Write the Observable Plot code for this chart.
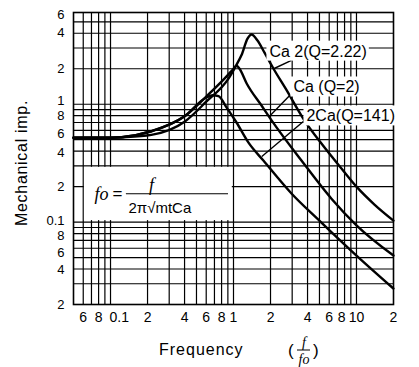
<!DOCTYPE html>
<html><head><meta charset="utf-8">
<script src="https://cdn.jsdelivr.net/npm/d3@7"></script>
<script src="https://cdn.jsdelivr.net/npm/@observablehq/plot@0.6"></script>
<style>body{margin:0;background:#fff;}</style>
</head><body><div id="chart"></div>
<script>
// Curve A: Ca/2 (Q=2.22)
const freqA = [0.05,0.1,0.123,0.215,0.40,0.60,0.91,1.06,1.16,1.30,1.40,1.567,1.787,2.11,2.65,3.78,5.19,7.55,10,14,20];
const impA  = [0.52,0.52,0.525,0.55,0.71,1.05,1.65,2.17,2.6,3.6,3.9,3.47,2.74,2.01,1.36,0.727,0.464,0.285,0.20,0.141,0.103];
// Curve B: Ca (Q=2)
const freqB = [0.05,0.1,0.123,0.215,0.40,0.60,0.91,1.0,1.06,1.12,1.28,1.69,2.04,3.57,6.26,10,20];
const impB  = [0.52,0.52,0.525,0.59,0.79,1.16,1.79,2.0,2.12,2.0,1.5,0.975,0.73,0.333,0.158,0.094,0.052];
// Curve C: 2Ca (Q=1.41)
const freqC = [0.05,0.1,0.123,0.215,0.40,0.60,0.68,0.755,0.877,1.058,1.324,1.75,2.96,4.99,10,20];
const impC  = [0.52,0.52,0.525,0.59,0.79,1.14,1.19,1.17,0.94,0.70,0.472,0.333,0.175,0.103,0.052,0.0273];

const xTicks = [0.06,0.08,0.1,0.2,0.4,0.6,0.8,1,2,4,6,8,10,20];
const xTickLabels = ["6","8","0.1","2","4","6","8","1","2","4","6","8","10","2"];
const yTicks = [6,4,2,1,0.8,0.6,0.4,0.2,0.1,0.08,0.06,0.04,0.02];
const yTickLabels = ["6","4","2","1","8","6","4","2","0.1","8","6","4","2"];
const xGrid = [0.06,0.07,0.08,0.09,0.1,0.2,0.3,0.4,0.5,0.6,0.7,0.8,0.9,1,2,3,4,5,6,7,8,9,10];
const yGrid = [0.03,0.04,0.05,0.06,0.07,0.08,0.09,0.1,0.2,0.3,0.4,0.5,0.6,0.7,0.8,0.9,1,2,3,4,5];

const labelText = ["Ca 2(Q=2.22)","Ca (Q=2)","2Ca(Q=141)"];
const labelX = [1.96, 3.07, 3.92];
const labelY = [2.8, 1.39, 0.79];
const leaderX1 = [2.96, 2.85, 3.78];
const leaderY1 = [2.35, 1.18, 0.727];
const leaderX2 = [2.12, 1.98, 1.70];
const leaderY2 = [2.0, 0.80, 0.36];

const rows = [
  ...freqA.map((f,i)=>({f, z: impA[i], s:"A"})),
  ...freqB.map((f,i)=>({f, z: impB[i], s:"B"})),
  ...freqC.map((f,i)=>({f, z: impC[i], s:"C"}))
];
const labels = labelText.map((t,i)=>({t, x: labelX[i], y: labelY[i]}));
const leaders = leaderX1.map((v,i)=>({x1: v, y1: leaderY1[i], x2: leaderX2[i], y2: leaderY2[i]}));

const sans = "'Liberation Sans', Arial, sans-serif";
const serif = "'Liberation Serif', 'Times New Roman', serif";

// small typographic nudges (pixels) so the packed tick labels do not collide
const xNudge = (v, i) => xTickLabels[i] === "0.1" ? {textAnchor: "start", dx: -1} : (v === 8 ? {dx: -3} : {});
const yNudge = {6: 2, 1: -3.5, 0.6: 3, 0.4: 2, 0.1: -1.5, 0.08: 2, 0.06: 4.5, 0.04: 1};

const xLabelMarks = xTicks.map((v, i) => Plot.text([v], {x: d => d, text: () => xTickLabels[i], frameAnchor: "bottom", lineAnchor: "top", dy: 8, fontSize: 14, fill: "black", ...xNudge(v, i)}));
const yLabelMarks = yTicks.map((v, i) => Plot.text([v], {y: d => d, text: () => yTickLabels[i], frameAnchor: "left", textAnchor: "end", lineAnchor: "middle", dx: -9, dy: yNudge[v] || 0, fontSize: 13, fill: "black"}));

const plot = Plot.plot({
  width: 419, height: 367,
  marginLeft: 73, marginRight: 26, marginTop: 12, marginBottom: 63,
  style: {fontFamily: sans, fontSize: "14px", background: "white", color: "black"},
  x: {type: "log", domain: [0.05, 20], axis: null},
  y: {type: "log", domain: [0.02, 6], axis: null},
  marks: [
    Plot.ruleX(xGrid, {stroke: "black", strokeWidth: 1.2}),
    Plot.ruleY(yGrid, {stroke: "black", strokeWidth: 1.2}),
    Plot.rect([{x1: 0.06, x2: 1, y1: 0.1, y2: 0.3}], {x1: "x1", x2: "x2", y1: "y1", y2: "y2", fill: "white", insetLeft: 1.2, insetRight: 1.2, insetTop: 1.5, insetBottom: 1.5}),
    Plot.frame({stroke: "black", strokeWidth: 1.6}),
    Plot.line(rows, {x: "f", y: "z", z: "s", stroke: "black", strokeWidth: 2.4, curve: "monotone-x"}),
    Plot.link(leaders, {x1: "x1", y1: "y1", x2: "x2", y2: "y2", stroke: "black", strokeWidth: 1.4}),
    Plot.text(labels, {x: "x", y: "y", text: "t", textAnchor: "start", lineAnchor: "middle", fontSize: 16, fill: "black", style: "letter-spacing:2px"}),
    ...xLabelMarks,
    ...yLabelMarks,
    // formula box contents
    Plot.text([{x: 0.0741, y: 0.1555, t: "fo"}], {x: "x", y: "y", text: "t", textAnchor: "start", lineAnchor: "bottom", fontSize: 18, fontStyle: "italic", fontFamily: serif}),
    Plot.text([{x: 0.104, y: 0.174, t: "="}], {x: "x", y: "y", text: "t", textAnchor: "start", lineAnchor: "middle", fontSize: 17}),
    Plot.ruleY([{y: 0.174, x1: 0.1346, x2: 0.911}], {y: "y", x1: "x1", x2: "x2", stroke: "black", strokeWidth: 1.2}),
    Plot.text([{x: 0.2154, y: 0.1854, t: "f"}], {x: "x", y: "y", text: "t", textAnchor: "middle", lineAnchor: "bottom", fontSize: 18, fontStyle: "italic", fontFamily: serif}),
    Plot.text([{x: 0.140, y: 0.1206, t: "2π√mtCa"}], {x: "x", y: "y", text: "t", textAnchor: "start", lineAnchor: "bottom", fontSize: 15, style: "letter-spacing:1.5px"})
  ]
});
document.getElementById("chart").append(plot);

const NS = "http://www.w3.org/2000/svg";
// white backgrounds behind curve labels
Array.from(plot.querySelectorAll("text")).filter(el => labelText.includes(el.textContent)).forEach(el => {
  const b = el.getBBox();
  const r = document.createElementNS(NS, "rect");
  r.setAttribute("x", b.x - 3); r.setAttribute("y", b.y - 2);
  r.setAttribute("width", b.width + 5); r.setAttribute("height", b.height + 3);
  r.setAttribute("fill", "white");
  const tr = el.getAttribute("transform"); if (tr) r.setAttribute("transform", tr);
  el.parentNode.insertBefore(r, el);
});

const svg = d3.select(plot);
// y axis title
svg.append("text").attr("transform", "translate(21,163) rotate(-90)")
  .attr("text-anchor", "middle").attr("dy", "0.35em")
  .style("font-size", "16px").style("letter-spacing", "0.7px").attr("fill", "black")
  .text("Mechanical imp.");
// x axis title
const xt = svg.append("g").attr("fill", "black").attr("text-anchor", "start");
xt.append("text").attr("x", 159).attr("y", 355).style("font-size", "16px").style("letter-spacing", "1px").text("Frequency");
xt.append("text").attr("x", 288).attr("y", 356).style("font-size", "17px").text("(");
xt.append("text").attr("x", 304).attr("y", 347).attr("text-anchor", "middle").style("font-size", "14px").style("font-style", "italic").style("font-family", serif).text("f");
xt.append("line").attr("x1", 297).attr("x2", 310).attr("y1", 350).attr("y2", 350).attr("stroke", "black").attr("stroke-width", 1);
xt.append("text").attr("x", 304).attr("y", 364).attr("text-anchor", "middle").style("font-size", "14px").style("font-style", "italic").style("font-family", serif).text("fo");
xt.append("text").attr("x", 313).attr("y", 356).style("font-size", "17px").text(")");
</script>
</body></html>
